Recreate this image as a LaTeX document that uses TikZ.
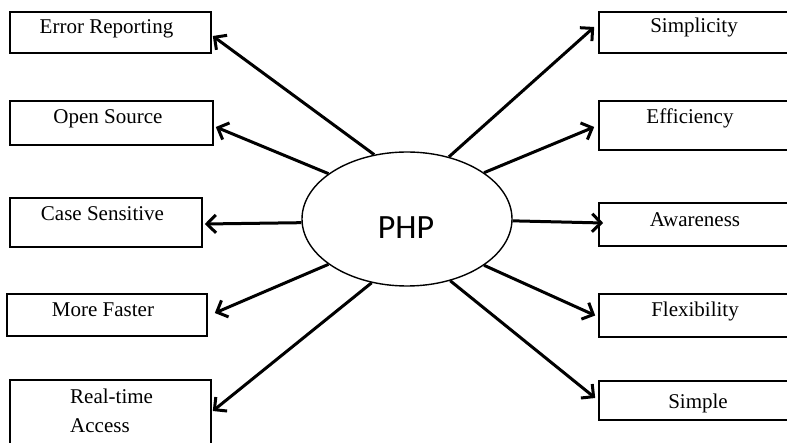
\documentclass[tikz,border=0pt]{standalone}
\usepackage{fontspec}
\setmainfont{Liberation Serif}
\newfontfamily\phpfont{Carlito}
\usetikzlibrary{arrows.meta,calc,shapes.geometric}
\begin{document}
\begin{tikzpicture}[x=1pt,y=-1pt,
  box/.style={draw,rectangle,line width=1.6pt,inner sep=0pt},
  lbl/.style={anchor=base,inner sep=0pt,font=\fontsize{21}{25}\selectfont},
  arr/.style={line width=3pt,-{Straight Barb[length=9pt,width=18pt,line width=3pt]}}]
\useasboundingbox (0,0) rectangle (787,443);
% central ellipse
\node[draw,ellipse,line width=1.4pt,minimum width=210pt,minimum height=134pt,inner sep=0pt] (php) at (407,219) {};
\node[anchor=base,inner sep=0pt,font=\phpfont\fontsize{34}{40}\selectfont] (phpt) at (406,239) {PHP};
% left boxes
\node[box,minimum width=201pt,minimum height=41pt] (er) at (110.5,32.5) {};
\node[box,minimum width=203pt,minimum height=44pt] (os) at (111.5,123) {};
\node[box,minimum width=192pt,minimum height=49pt] (cs) at (106,222.5) {};
\node[box,minimum width=200pt,minimum height=42pt] (mf) at (107,315) {};
\node[box,minimum width=201pt,minimum height=80pt] (ra) at (110.5,420) {};
% right boxes
\node[box,minimum width=201pt,minimum height=41pt] (si) at (699.5,32.5) {};
\node[box,minimum width=201pt,minimum height=49pt] (ef) at (699.5,125.5) {};
\node[box,minimum width=201pt,minimum height=43pt] (aw) at (699.5,224.5) {};
\node[box,minimum width=201pt,minimum height=43pt] (fl) at (699.5,315.5) {};
\node[box,minimum width=201pt,minimum height=39pt] (sp) at (699.5,400.5) {};
% labels
\node[lbl] (ert) at (106.5,34) {Error Reporting};
\node[lbl] (ost) at (108,124) {Open Source};
\node[lbl] (cst) at (102.5,221) {Case Sensitive};
\node[lbl] (mft) at (103,317) {More Faster};
\node[lbl,anchor=base west] (rat1) at (70,403) {Real-time};
\node[lbl,anchor=base west] (rat2) at (70,432) {Access};
\node[lbl] (sit) at (694,33) {Simplicity};
\node[lbl] (eft) at (690,124) {Efficiency};
\node[lbl] (awt) at (695,227) {Awareness};
\node[lbl] (flt) at (695,317) {Flexibility};
\node[lbl] (spt) at (698,408) {Simple};
% arrows
\draw[arr] (php.117.6) -- ($(er.east)+(1,3.5)$);
\draw[arr] (php.150.5) -- ($(os.east)+(2,4)$);
\draw[arr] (php.182.7) -- ($(cs.east)+(2,1.5)$);
\draw[arr] (php.210) -- ($(mf.east)+(7,-2)$);
\draw[arr] (php.241.4) -- ($(ra.east)+(1,-9)$);
\draw[arr] (php.56.3) -- ($(si.west)+(-4,-5.5)$);
\draw[arr] (php.31.6) -- ($(ef.west)+(-4,1.5)$);
\draw[arr] (php.-1.1) -- ($(aw.west)+(5,-1.5)$);
\draw[arr] (php.-31.6) -- ($(fl.west)+(-3,0)$);
\draw[arr] (php.-55.5) -- ($(sp.west)+(-3,-2.5)$);
\end{tikzpicture}
\end{document}
